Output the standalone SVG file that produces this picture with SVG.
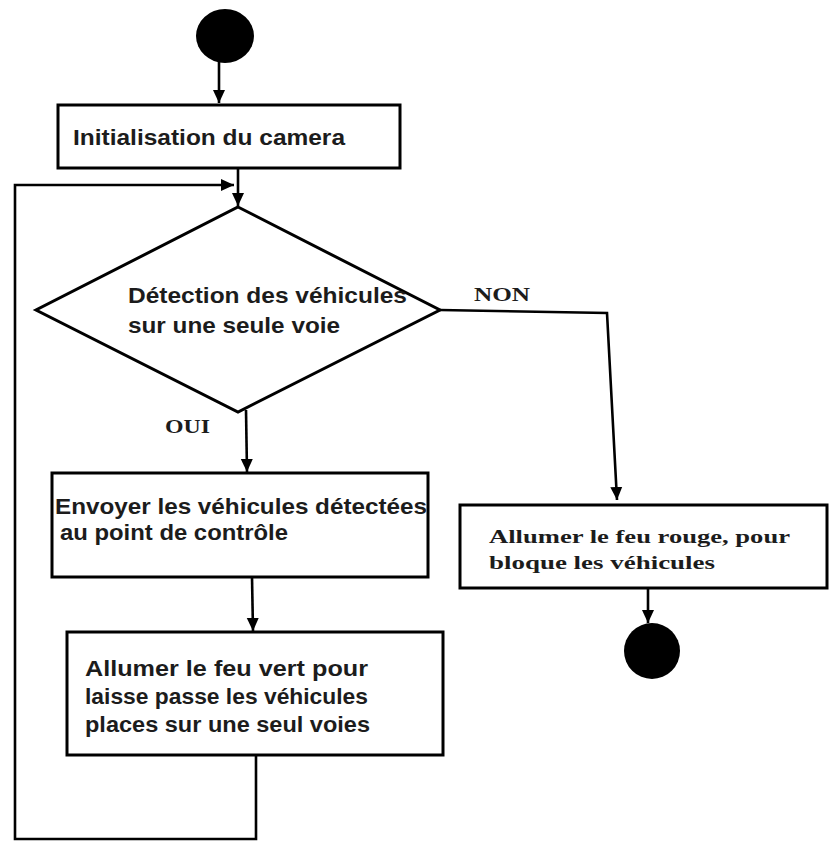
<svg xmlns="http://www.w3.org/2000/svg" width="831" height="843" viewBox="0 0 831 843">
  <style>
    .box { fill: #ffffff; stroke: #000000; stroke-width: 3; }
    .dot { fill: #000000; }
    .wire { fill: none; stroke: #000000; stroke-width: 2.6; }
    .sans { font-family: "Liberation Sans", Arial, sans-serif; font-weight: bold; font-size: 22px; fill: #1c1c1c; }
    .serif { font-family: "Liberation Serif", "Times New Roman", serif; font-weight: bold; font-size: 18px; fill: #1c1c1c; }
  </style>
  <defs>
    <marker id="arrow" viewBox="0 0 12 14" refX="13" refY="7" markerWidth="12" markerHeight="14" markerUnits="userSpaceOnUse" orient="auto">
      <path d="M0,1 L13,7 L0,13 z" fill="#000000"/>
    </marker>
  </defs>

  <rect width="831" height="843" fill="#ffffff"/>

  <!-- connectors -->
  <g id="connectors">
    <path class="wire" d="M219,62 L219,103" marker-end="url(#arrow)"/>
    <path class="wire" d="M238,168 L238,206" marker-end="url(#arrow)"/>
    <path class="wire" d="M256,755 L256,839 L15,839 L15,185 L234,185" marker-end="url(#arrow)"/>
    <path class="wire" d="M440,310 L607,313 L617,500" marker-end="url(#arrow)"/>
    <path class="wire" d="M246,410 L247,472" marker-end="url(#arrow)"/>
    <path class="wire" d="M252,577 L253,631" marker-end="url(#arrow)"/>
    <path class="wire" d="M648,588 L648,623" marker-end="url(#arrow)"/>
    <text class="serif" x="474" y="301" textLength="56" lengthAdjust="spacingAndGlyphs">NON</text>
    <text class="serif" x="165" y="433" textLength="45" lengthAdjust="spacingAndGlyphs">OUI</text>
  </g>

  <!-- start -->
  <g id="start">
    <ellipse class="dot" cx="225" cy="36" rx="29" ry="27"/>
  </g>

  <!-- camera initialisation -->
  <g id="init">
    <rect class="box" x="58" y="105" width="342" height="63"/>
    <text class="sans" x="73" y="145" textLength="272" lengthAdjust="spacingAndGlyphs">Initialisation du camera</text>
  </g>

  <!-- decision -->
  <g id="decision">
    <polygon class="box" points="238,207 440,310 238,412 36,310"/>
    <text class="sans" x="128" y="303" textLength="279" lengthAdjust="spacingAndGlyphs">Détection des véhicules</text>
    <text class="sans" x="128" y="333" textLength="212" lengthAdjust="spacingAndGlyphs">sur une seule voie</text>
  </g>

  <!-- send detected vehicles -->
  <g id="send">
    <rect class="box" x="52" y="473" width="376" height="104"/>
    <text class="sans" x="55" y="514" textLength="372" lengthAdjust="spacingAndGlyphs">Envoyer les véhicules détectées</text>
    <text class="sans" x="60" y="540" textLength="228" lengthAdjust="spacingAndGlyphs">au point de contrôle</text>
  </g>

  <!-- green light -->
  <g id="green">
    <rect class="box" x="67" y="632" width="376" height="123"/>
    <text class="sans" x="85" y="676" textLength="283" lengthAdjust="spacingAndGlyphs">Allumer le feu vert pour</text>
    <text class="sans" x="85" y="704" textLength="283" lengthAdjust="spacingAndGlyphs">laisse passe les véhicules</text>
    <text class="sans" x="85" y="732" textLength="285" lengthAdjust="spacingAndGlyphs">places sur une seul voies</text>
  </g>

  <!-- red light -->
  <g id="red">
    <rect class="box" x="460" y="505" width="367" height="83"/>
    <text class="serif" x="489" y="543" textLength="301" lengthAdjust="spacingAndGlyphs">Allumer le feu rouge, pour</text>
    <text class="serif" x="489" y="569" textLength="226" lengthAdjust="spacingAndGlyphs">bloque les véhicules</text>
  </g>

  <!-- end -->
  <g id="end">
    <circle class="dot" cx="652" cy="651" r="28"/>
  </g>
</svg>
